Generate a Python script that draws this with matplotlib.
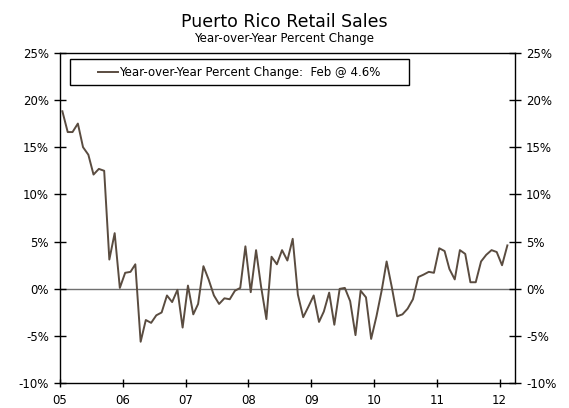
import matplotlib
matplotlib.use("Agg")
import matplotlib.pyplot as plt
import matplotlib.dates as mdates
from matplotlib.patches import Rectangle
import pandas as pd

# monthly year-over-year % change, Jan 2005 - Feb 2012
y2005 = [18.8, 16.6, 16.6, 17.5, 15.0, 14.2, 12.1, 12.7, 12.5, 3.1, 5.9, 0.1]
y2006 = [1.7, 1.8, 2.6, -5.6, -3.3, -3.6, -2.8, -2.5, -0.7, -1.4, -0.1, -4.1]
y2007 = [0.35, -2.7, -1.6, 2.4, 1.0, -0.7, -1.6, -1.0, -1.1, -0.2, 0.1, 4.5]
y2008 = [-0.35, 4.1, 0.25, -3.2, 3.4, 2.6, 4.1, 3.0, 5.3, -0.6, -3.0, -1.9]
y2009 = [-0.7, -3.5, -2.4, -0.4, -3.8, 0.0, 0.1, -1.3, -4.9, -0.2, -0.9, -5.3]
y2010 = [-2.9, -0.1, 2.9, 0.1, -2.9, -2.7, -2.1, -1.1, 1.25, 1.5, 1.8, 1.7]
y2011 = [4.3, 4.0, 2.1, 1.0, 4.1, 3.7, 0.7, 0.7, 2.9, 3.6, 4.1, 3.9]
y2012 = [2.5, 4.6]

values = y2005 + y2006 + y2007 + y2008 + y2009 + y2010 + y2011 + y2012
dates = pd.date_range("2005-01-01", periods=len(values), freq="MS") + pd.Timedelta(days=14)

yticks = [-10, -5, 0, 5, 10, 15, 20, 25]
year_labels = ["05", "06", "07", "08", "09", "10", "11", "12"]

line_color = "#5a4c40"

fig = plt.figure(figsize=(5.69, 4.08), dpi=100)
ax = fig.add_axes([0.1054, 0.0605, 0.7996, 0.8103])

ax.plot(dates, values, color=line_color, lw=1.4,
        label="Year-over-Year Percent Change:  Feb @ 4.6%")
ax.axhline(0, color="#707070", lw=1.0, zorder=1)

ax.set_ylim(-10, 25)
ax.set_xlim(pd.Timestamp("2005-01-01"), pd.Timestamp("2012-03-30"))
ax.set_yticks(yticks)
ax.set_yticklabels([f"{t}%" for t in yticks])
ax.set_xticks(pd.date_range("2005-01-01", periods=len(year_labels), freq="YS"))
ax.set_xticklabels(year_labels)

ax.tick_params(axis="y", direction="inout", length=8, width=1, labelsize=8.5,
               left=True, right=True, labelleft=True, labelright=True, pad=4)
ax.tick_params(axis="x", direction="inout", length=6, width=1, labelsize=8.5, pad=5)
for s in ax.spines.values():
    s.set_linewidth(1.0)

# legend box
ax.add_patch(Rectangle((0.0220, 0.902), 0.7450, 0.078, transform=ax.transAxes,
                       fill=False, edgecolor="black", lw=1.0, zorder=5))
ax.legend(loc="center", bbox_to_anchor=(0.3945, 0.941), frameon=False,
          fontsize=8.5, handlelength=1.7, handletextpad=0.1)

fig.text(0.5, 0.935, "Puerto Rico Retail Sales", ha="center", fontsize=12.5)
fig.text(0.5, 0.897, "Year-over-Year Percent Change", ha="center", fontsize=8.5)

fig.savefig("out.png", dpi=100)
